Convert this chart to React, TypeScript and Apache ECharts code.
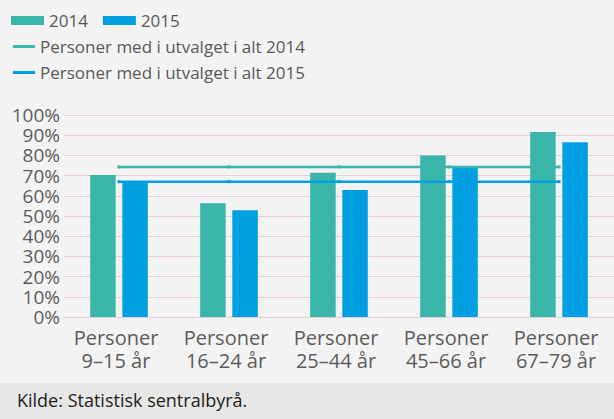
import React, { useEffect, useRef } from "react";
import * as echarts from "echarts";

const categories = ["Personer\n9–15 år", "Personer\n16–24 år", "Personer\n25–44 år", "Personer\n45–66 år", "Personer\n67–79 år"];
const values2014 = [70.3, 56.3, 71.4, 79.9, 91.6];
const values2015 = [66.8, 52.8, 62.9, 74.0, 86.5];
const avg2014 = [74.3, 74.3, 74.3, 74.3, 74.3];
const avg2015 = [67.0, 67.0, 67.0, 67.0, 67.0];
const lineName2014 = "Personer med i utvalget i alt 2014";
const lineName2015 = "Personer med i utvalget i alt 2015";
const source = "Kilde: Statistisk sentralbyrå.";

const GREEN = "#39b6a9";
const BLUE = "#009fe2";
const FONT = "Open Sans";

export default function App() {
  const ref = useRef<HTMLDivElement>(null);
  useEffect(() => {
    if (!ref.current) return;
    const chart = echarts.init(ref.current, null, { renderer: "svg" });
    chart.setOption({
      animation: false,
      backgroundColor: "#f3f3f3",
      textStyle: { fontFamily: FONT },
      grid: { left: 64, right: 0, top: 115, bottom: 102 },
      legend: [
        {
          data: ["2014", "2015"],
          left: 11,
          top: 12,
          padding: 0,
          icon: "rect",
          itemWidth: 33,
          itemHeight: 9,
          itemGap: 15,
          textStyle: { fontSize: 17, color: "#595959", fontFamily: FONT },
        },
        {
          data: [lineName2014],
          left: 13,
          top: 38,
          padding: 0,
          icon: "rect",
          itemWidth: 22,
          itemHeight: 3,
          textStyle: { fontSize: 17, color: "#595959", fontFamily: FONT },
        },
        {
          data: [lineName2015],
          left: 13,
          top: 64,
          padding: 0,
          icon: "rect",
          itemWidth: 22,
          itemHeight: 3,
          textStyle: { fontSize: 17, color: "#595959", fontFamily: FONT },
        },
      ],
      xAxis: {
        type: "category",
        data: categories,
        axisLine: { show: false },
        axisTick: { show: false },
        axisLabel: {
          interval: 0,
          fontSize: 20,
          lineHeight: 23,
          color: "#5c5c5c",
          margin: 9,
          fontFamily: FONT,
          padding: [0, 6, 0, 0],
        },
      },
      yAxis: {
        type: "value",
        min: 0,
        max: 100,
        interval: 10,
        axisLine: { show: false },
        axisTick: { show: false },
        splitLine: { lineStyle: { color: "#e4cfd4", width: 1 } },
        axisLabel: {
          formatter: "{value}%",
          fontSize: 19,
          lineHeight: 19,
          color: "#5c5c5c",
          margin: 4,
          fontFamily: FONT,
        },
      },
      series: [
        {
          name: "2014",
          type: "bar",
          data: values2014,
          barWidth: 25.5,
          barGap: "26%",
          itemStyle: { color: GREEN },
        },
        {
          name: "2015",
          type: "bar",
          data: values2015,
          barWidth: 25.5,
          itemStyle: { color: BLUE },
        },
        {
          name: lineName2014,
          type: "line",
          data: avg2014,
          symbol: "rect",
          symbolSize: 3,
          lineStyle: { color: GREEN, width: 2.5 },
          itemStyle: { color: GREEN },
        },
        {
          name: lineName2015,
          type: "line",
          data: avg2015,
          symbol: "rect",
          symbolSize: 3,
          lineStyle: { color: BLUE, width: 2.5 },
          itemStyle: { color: BLUE },
        },
      ],
      graphic: [
        {
          type: "rect",
          left: 0,
          top: 383,
          shape: { width: 614, height: 36 },
          style: { fill: "#e7e7e5" },
          silent: true,
        },
        {
          type: "text",
          left: 17,
          top: 391,
          style: { text: source, fontSize: 18, fill: "#222222", fontFamily: FONT },
          silent: true,
        },
      ],
    });
    return () => chart.dispose();
  }, []);
  return (
    <div style={{ position: "absolute", left: 0, top: 0 }}>
      <div ref={ref} style={{ width: 614, height: 419 }} />
    </div>
  );
}
